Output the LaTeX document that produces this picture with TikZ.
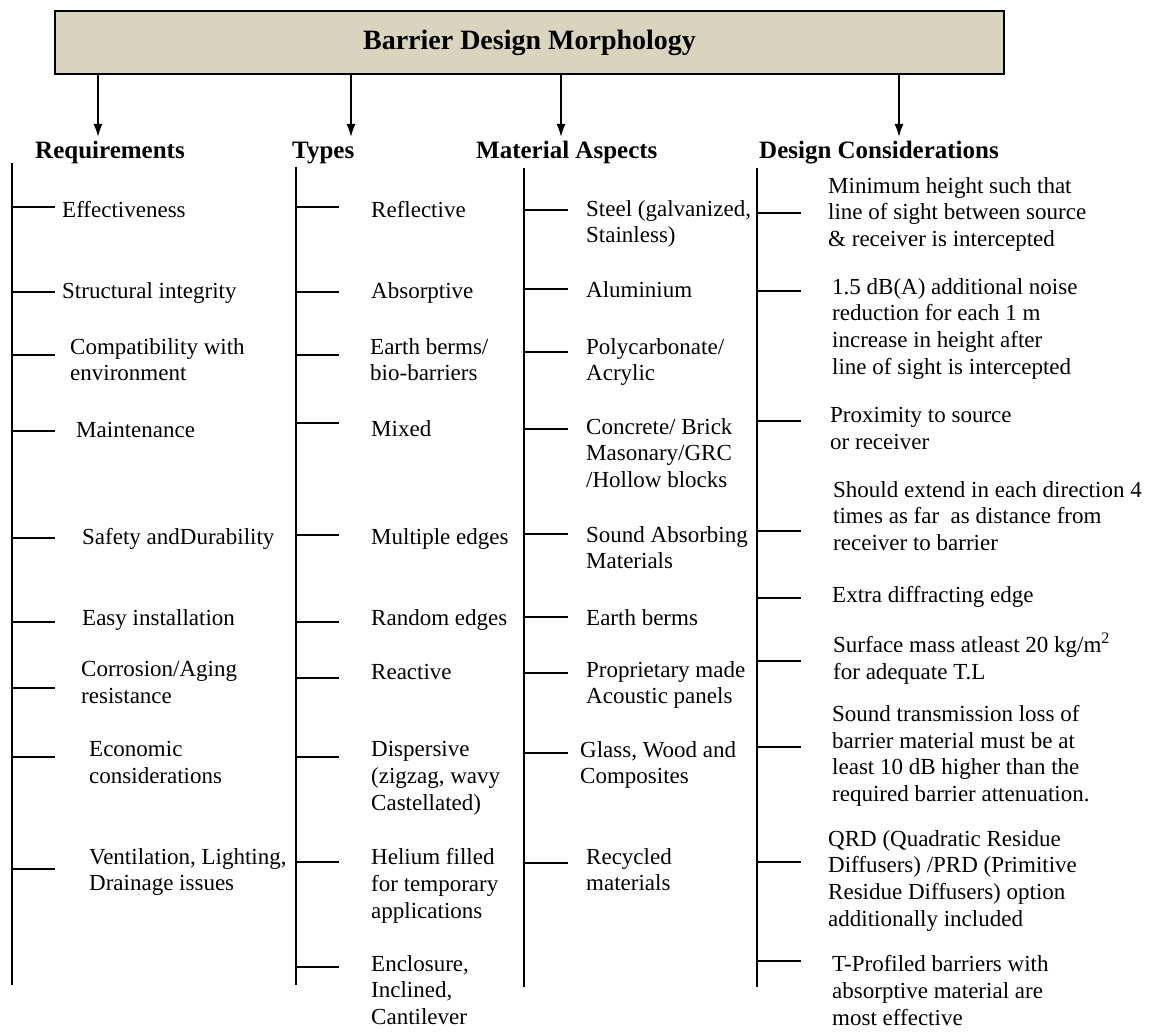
\documentclass[tikz,border=0pt]{standalone}
\usepackage{fontspec}
\setmainfont{Liberation Serif}
\usetikzlibrary{arrows.meta}

\definecolor{boxtan}{RGB}{217,212,189}
\newcommand{\itemfont}{\fontsize{23}{26.8}\selectfont}
\newcommand{\headfont}{\fontsize{25}{28}\selectfont\bfseries}

\begin{document}
\begin{tikzpicture}[x=1pt,y=-1pt,
  titlebox/.style={draw,fill=boxtan,line width=2pt,minimum width=949pt,minimum height=63pt,
    font=\fontsize{28}{32}\selectfont\bfseries},
  head/.style={anchor=base west,inner sep=0pt,font=\headfont},
  item/.style={anchor=north west,inner sep=0pt,align=left,font=\itemfont,execute at begin node=\strut},
  arr/.style={-{Latex[length=13pt,width=9pt]},line width=1.8pt},
  spine/.style={line width=1.8pt},
  stub/.style={line width=1.5pt}]

\useasboundingbox (0,0) rectangle (1149,1032);

% title and column headings
\node[titlebox] (title) at (529.5,42.5) {Barrier Design Morphology};
\node[head] (hreq) at (35,159) {Requirements};
\node[head] (htyp) at (292,159) {Types};
\node[head] (hmat) at (476,159) {Material Aspects};
\node[head] (hdes) at (759,159) {Design Considerations};

\coordinate (areq) at (98,137);
\coordinate (atyp) at (351,137);
\coordinate (amat) at (561,137);
\coordinate (ades) at (899,137);
\foreach \n in {areq,atyp,amat,ades}
  \draw[arr] (title.south -| \n) -- (\n);

% spines
\coordinate (rtop) at (12,163);  \coordinate (rbot) at (12,985);
\coordinate (ttop) at (296,167); \coordinate (tbot) at (296,985);
\coordinate (mtop) at (524,168); \coordinate (mbot) at (524,987);
\coordinate (dtop) at (757,168); \coordinate (dbot) at (757,987);
\draw[spine] (rtop) -- (rbot);
\draw[spine] (ttop) -- (tbot);
\draw[spine] (mtop) -- (mbot);
\draw[spine] (dtop) -- (dbot);

% stubs
\foreach \y in {207,292,355,431,538,622,688,757,869}
  \draw[stub] (rtop |- 0,\y) -- ++(43,0);
\foreach \y in {207,292,355,423,535,622,678,757,862,967}
  \draw[stub] (ttop |- 0,\y) -- ++(43,0);
\foreach \y in {210,289,352,429,534,617,673,753,863}
  \draw[stub] (mtop |- 0,\y) -- ++(44,0);
\foreach \y in {213,291,421,531,598,661,747,862,961}
  \draw[stub] (dtop |- 0,\y) -- ++(44,0);

% requirements
\node[item] (r1) at (62,199) {Effectiveness};
\node[item] (r2) at (62,280) {Structural integrity};
\node[item] (r3) at (70,338) {Compatibility with\\ environment};
\node[item] (r4) at (76,419) {Maintenance};
\node[item] (r5) at (82,526) {Safety andDurability};
\node[item] (r6) at (82,607) {Easy installation};
\node[item] (r7) at (81,661) {Corrosion/Aging\\resistance};
\node[item] (r8) at (89,741) {Economic\\considerations};
\node[item] (r9) at (89,848) {Ventilation, Lighting,\\Drainage issues};

% types
\node[item] (t1) at (371,199) {Reflective};
\node[item] (t2) at (371,280) {Absorptive};
\node[item] (t3) at (370,338) {Earth berms/\\bio-barriers};
\node[item] (t4) at (371,418) {Mixed};
\node[item] (t5) at (371,526) {Multiple edges};
\node[item] (t6) at (371,607) {Random edges};
\node[item] (t7) at (371,661) {Reactive};
\node[item] (t8) at (371,741) {Dispersive\\(zigzag, wavy\\Castellated)};
\node[item] (t9) at (371,848) {Helium filled\\for temporary\\applications};
\node[item] (t10) at (371,955) {Enclosure,\\Inclined,\\Cantilever};

% materials
\node[item] (m1) at (586,200) {Steel (galvanized,\\Stainless)};
\node[item] (m2) at (586,279) {Aluminium};
\node[item] (m3) at (586,338) {Polycarbonate/\\Acrylic};
\node[item] (m4) at (586,418) {Concrete/ Brick\\Masonary/GRC\\/Hollow blocks};
\node[item] (m5) at (586,526) {Sound Absorbing\\Materials};
\node[item] (m6) at (586,607) {Earth berms};
\node[item] (m7) at (586,661) {Proprietary made\\Acoustic panels};
\node[item] (m8) at (580,741) {Glass, Wood and\\Composites};
\node[item] (m9) at (586,848) {Recycled\\materials};

% design considerations
\node[item] (d1) at (828,177) {Minimum height such that\\line of sight between source\\\& receiver is intercepted};
\node[item] (d2) at (832,278) {1.5 dB(A) additional noise\\reduction for each 1 m\\increase in height after\\line of sight is intercepted};
\node[item] (d3) at (830,407) {Proximity to source\\or receiver};
\node[item] (d4) at (833,481) {Should extend in each direction 4\\times as far \ as distance from\\receiver to barrier};
\node[item] (d5) at (832,584) {Extra diffracting edge};
\node[item] (d6) at (833,633) {Surface mass atleast 20 kg/m\textsuperscript{2}\\for adequate T.L};
\node[item] (d7) at (832,705) {Sound transmission loss of\\barrier material must be at\\least 10 dB higher than the\\required barrier attenuation.};
\node[item] (d8) at (828,830) {QRD (Quadratic Residue\\Diffusers) /PRD (Primitive\\Residue Diffusers) option\\additionally included};
\node[item] (d9) at (832,955) {T-Profiled barriers with\\absorptive material are\\most effective};
\end{tikzpicture}
\end{document}
